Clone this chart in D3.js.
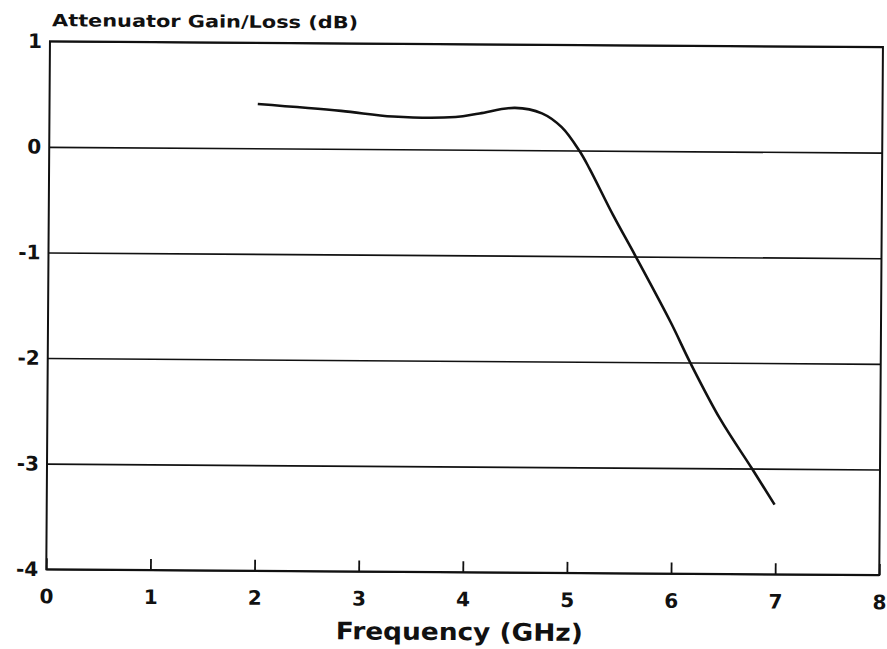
<!DOCTYPE html>
<html>
<head>
<meta charset="utf-8">
<script src="https://cdn.jsdelivr.net/npm/d3@7"></script>
<style>
  body { margin: 0; background: #fff; }
  svg text { font-family: "DejaVu Sans", "Liberation Sans", sans-serif; font-weight: bold; fill: #111; }
</style>
</head>
<body>
<div id="grafico"></div>
<script>
// frequency (GHz) vs attenuator gain/loss (dB)
var freqGHz = [2.0, 2.8, 3.3, 3.9, 4.13, 4.47, 4.73, 4.92, 5.09, 5.19, 5.42, 5.64, 5.98, 6.17, 6.46, 6.77, 6.99];
var gainDb  = [0.42, 0.36, 0.31, 0.31, 0.345, 0.40, 0.35, 0.22, 0, -0.17, -0.61, -1, -1.62, -2, -2.53, -3, -3.34];
var xTicks = [0, 1, 2, 3, 4, 5, 6, 7, 8];
var yTicks = [1, 0, -1, -2, -3, -4];
var yTitle = "Attenuator Gain/Loss (dB)";
var xTitle = "Frequency (GHz)";

var width = 887, height = 649;
var margin = {top: 44, right: 6, bottom: 77, left: 48};
var plotWidth = width - margin.left - margin.right;
var plotHeight = height - margin.top - margin.bottom;

var data = freqGHz.map(function(f, i){ return {x: f, y: gainDb[i]}; });
// plain hyphen, like the original print
var fmt = function(d){ return d < 0 ? "-" + Math.abs(d) : String(d); };

var svg = d3.select("#grafico").append("svg")
  .attr("width", width).attr("height", height);

// the scanned page sits a little crooked
var page = svg.append("g")
  .attr("transform", "rotate(0.4," + (width / 2) + "," + (height / 2) + ")");

var xScale = d3.scaleLinear().domain([0, 8]).range([0, plotWidth]);
var yScale = d3.scaleLinear().domain([1, -4]).range([0, plotHeight]);

var plotArea = page.append("g")
  .attr("transform", "translate(" + margin.left + "," + margin.top + ")");

// horizontal grid + y labels
var yAxis = plotArea.append("g")
  .call(d3.axisLeft(yScale).tickValues(yTicks).tickSizeInner(-plotWidth).tickSizeOuter(0)
    .tickPadding(8).tickFormat(fmt));
yAxis.select(".domain").remove();
yAxis.selectAll("line").attr("stroke", "#111").attr("stroke-width", 1.6);
yAxis.selectAll("text").style("font-size", "20px").attr("fill", "#111");

// x ticks point up into the plot
var xAxis = plotArea.append("g")
  .attr("transform", "translate(0," + plotHeight + ")")
  .call(d3.axisBottom(xScale).tickValues(xTicks).tickSizeInner(-11).tickSizeOuter(0)
    .tickPadding(20).tickFormat(fmt));
xAxis.select(".domain").remove();
xAxis.selectAll("line").attr("stroke", "#111").attr("stroke-width", 1.8);
xAxis.selectAll("text").style("font-size", "20px").attr("fill", "#111");

// frame
plotArea.append("rect")
  .attr("x", 0).attr("y", 0)
  .attr("width", plotWidth).attr("height", plotHeight)
  .attr("fill", "none").attr("stroke", "#111").attr("stroke-width", 2);

var line = d3.line()
  .x(function(d){ return xScale(d.x); })
  .y(function(d){ return yScale(d.y); })
  .curve(d3.curveCatmullRom.alpha(0.5));

plotArea.append("path")
  .datum(data)
  .attr("fill", "none")
  .attr("stroke", "#111")
  .attr("stroke-width", 2.6)
  .attr("stroke-linejoin", "round")
  .attr("d", line);

// titles
page.append("text")
  .attr("x", 50).attr("y", 29)
  .style("font-size", "17px")
  .attr("textLength", 306).attr("lengthAdjust", "spacingAndGlyphs")
  .text(yTitle);

page.append("text")
  .attr("x", 338).attr("y", 640)
  .style("font-size", "24px")
  .attr("textLength", 247).attr("lengthAdjust", "spacingAndGlyphs")
  .text(xTitle);
</script>
</body>
</html>
